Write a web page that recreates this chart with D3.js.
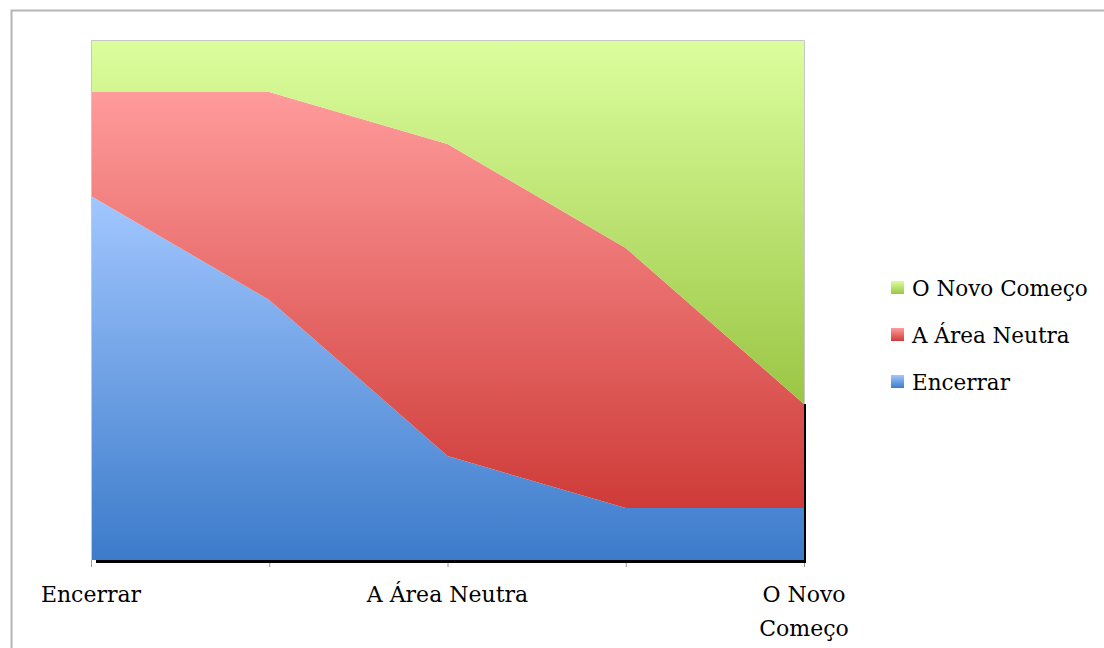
<!DOCTYPE html>
<html>
<head>
<meta charset="utf-8">
<script src="https://cdn.jsdelivr.net/npm/d3@7"></script>
<style>
  html, body { margin: 0; padding: 0; background: #fff; }
  svg { display: block; }
  text { font-family: "DejaVu Serif", serif; fill: #000; }
</style>
</head>
<body>
<svg id="chart" width="1104" height="648"></svg>
<script>
// Stages of the transition (x categories); blank entries have no label
const categories = ["Encerrar", "", "A Área Neutra", "", "O Novo Começo"];
const categoryKeys = ["c0", "c1", "c2", "c3", "c4"];

// Series values (percent share at each stage)
const encerrar   = [70, 50, 20, 10, 10];
const areaNeutra = [20, 40, 60, 50, 20];
const novoComeco = [10, 10, 20, 40, 70];

const seriesNames = ["Encerrar", "A Área Neutra", "O Novo Começo"];
const seriesValues = [encerrar, areaNeutra, novoComeco];
const gradientStops = [
  ["#a2c7ff", "#3c7bca"],
  ["#ff9b9b", "#ce3b38"],
  ["#dcfe9e", "#9ac644"]
];

const svg = d3.select("#chart");
const W = 1104, H = 648;
const plot = { left: 91, right: 804, top: 40, bottom: 560 };

// outer frame
svg.append("path")
  .attr("d", `M11.5,${H + 2}V10.5H${W + 2}`)
  .attr("fill", "none").attr("stroke", "#b5b5b5").attr("stroke-width", 2);

const x = d3.scalePoint().domain(categoryKeys).range([plot.left, plot.right]);
const y = d3.scaleLinear().domain([0, 100]).range([plot.bottom, plot.top]);

const rows = categoryKeys.map((k, i) => {
  const r = { key: k };
  seriesNames.forEach((s, j) => r[s] = seriesValues[j][i]);
  return r;
});
const stacked = d3.stack().keys(seriesNames)(rows);

const defs = svg.append("defs");
seriesNames.forEach((s, j) => {
  const g = defs.append("linearGradient")
    .attr("id", "grad" + j).attr("x1", 0).attr("y1", 0).attr("x2", 0).attr("y2", 1);
  g.append("stop").attr("offset", 0).attr("stop-color", gradientStops[j][0]);
  g.append("stop").attr("offset", 1).attr("stop-color", gradientStops[j][1]);
});

const area = d3.area()
  .x(d => x(d.data.key))
  .y0(d => y(d[0]))
  .y1(d => y(d[1]));

svg.append("g").selectAll("path")
  .data(stacked)
  .join("path")
  .attr("d", area)
  .attr("fill", (d, i) => `url(#grad${i})`);

// plot frame lines: light grey left, top and right
svg.append("path")
  .attr("d", `M${plot.left + 0.5},${plot.bottom}V${plot.top + 0.5}H${plot.right + 0.5}V${plot.bottom}`)
  .attr("fill", "none").attr("stroke", "#c8c8c8").attr("stroke-width", 1);

// dark edge beside the lower series on the right
const topOfNeutral = y(stacked[1][4][1]);
svg.append("line")
  .attr("x1", plot.right + 1).attr("x2", plot.right + 1)
  .attr("y1", topOfNeutral).attr("y2", plot.bottom + 2)
  .attr("stroke", "#000").attr("stroke-width", 2);

// x axis
const xAxis = d3.axisBottom(x).tickSize(7).tickFormat(() => "");
const gx = svg.append("g").attr("transform", `translate(0,${plot.bottom})`).call(xAxis);
gx.select(".domain").remove();
gx.selectAll(".tick line").attr("stroke", "#9a9a9a");
svg.append("line")
  .attr("x1", plot.left + 5).attr("x2", plot.right + 2)
  .attr("y1", plot.bottom + 1.5).attr("y2", plot.bottom + 1.5)
  .attr("stroke", "#000").attr("stroke-width", 3);

// category labels (wrapped into two lines when too wide near the edge)
categoryKeys.forEach((k, i) => {
  const label = categories[i];
  if (!label) return;
  const t = svg.append("text")
    .attr("x", x(k)).attr("text-anchor", "middle").attr("font-size", 22);
  if (i === categories.length - 1) {
    const words = label.split(" ");
    t.append("tspan").attr("x", x(k)).attr("y", 602).text(words.slice(0, 2).join(" "));
    t.append("tspan").attr("x", x(k)).attr("y", 636).text(words.slice(2).join(" "));
  } else {
    t.attr("y", 602).text(label);
  }
});

// legend (top to bottom: last series first)
const legend = svg.append("g");
const legendOrder = [2, 1, 0];
legendOrder.forEach((j, r) => {
  const cy = 288 + r * 47;
  legend.append("rect")
    .attr("x", 891).attr("y", cy - 7).attr("width", 13).attr("height", 13)
    .attr("fill", `url(#grad${j})`);
  legend.append("text")
    .attr("x", 912).attr("y", cy + 8).attr("font-size", 21.5)
    .text(seriesNames[j]);
});
</script>
</body>
</html>
